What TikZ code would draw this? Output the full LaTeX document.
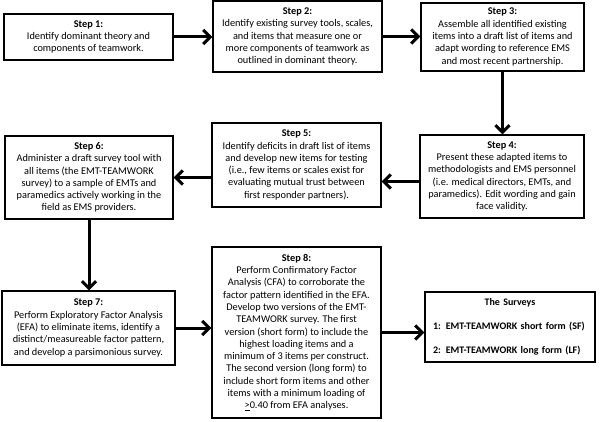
\documentclass[tikz,border=0pt]{standalone}
\usepackage{fontspec}
\setmainfont{Carlito}
\usetikzlibrary{arrows.meta}

\begin{document}
\begin{tikzpicture}[x=1pt, y=-1pt,
  stepbox/.style={draw, line width=1.3pt, fill=white, align=center, inner sep=2pt,
    font=\fontsize{10.3}{12.3}\selectfont},
  flow/.style={-{Straight Barb[length=7pt, width=14pt]}, line width=3pt}]
\useasboundingbox (0,0) rectangle (600,422);

% top row
\node (s1) at (88.5, 37) [stepbox, minimum width=169pt, minimum height=46pt]
  {\textbf{Step 1:}\\Identify dominant theory and\\components of teamwork.};
\node (s2) at (297.5, 36.5) [stepbox, minimum width=169pt, minimum height=71pt]
  {\textbf{Step 2:}\\Identify existing survey tools, scales,\\and items that measure one or\\more components of teamwork as\\outlined in dominant theory.};
\node (s3) at (502.5, 37) [stepbox, minimum width=163pt, minimum height=68pt]
  {\textbf{Step 3:}\\Assemble all identified existing\\items into a draft list of items and\\adapt wording to reference EMS\\and most recent partnership.};

% middle row
\node (s4) at (502, 176.5) [stepbox, minimum width=164pt, minimum height=83pt]
  {\textbf{Step 4:}\\Present these adapted items to\\methodologists and EMS personnel\\(i.e. medical directors, EMTs, and\\paramedics). Edit wording and gain\\face validity.};
\node (s5) at (296.5, 165) [stepbox, minimum width=169pt, minimum height=84pt]
  {\textbf{Step 5:}\\Identify deficits in draft list of items\\and develop new items for testing\\(i.e., few items or scales exist for\\evaluating mutual trust between\\first responder partners).};
\node (s6) at (89, 177.5) [stepbox, minimum width=168pt, minimum height=83pt]
  {\textbf{Step 6:}\\Administer a draft survey tool with\\all items (the EMT-TEAMWORK\\survey) to a sample of EMTs and\\paramedics actively working in the\\field as EMS providers.};

% bottom row
\node (s7) at (88.5, 328) [stepbox, minimum width=173pt, minimum height=74pt]
  {\textbf{Step 7:}\\Perform Exploratory Factor Analysis\\(EFA) to eliminate items, identify a\\distinct/measureable factor pattern,\\and develop a parsimonious survey.};
\node (s8) at (296.5, 332.5) [stepbox, minimum width=169pt, minimum height=171pt]
  {\textbf{Step 8:}\\Perform Confirmatory Factor\\Analysis (CFA) to corroborate the\\factor pattern identified in the EFA.\\Develop two versions of the EMT-\\TEAMWORK survey. The first\\version (short form) to include the\\highest loading items and a\\minimum of 3 items per construct.\\The second version (long form) to\\include short form items and other\\items with a minimum loading of\\\underline{>}0.40 from EFA analyses.};
\node (sv) at (510, 327) [stepbox, minimum width=170pt, minimum height=70pt, align=left,
  text width=160pt, inner xsep=5pt, font=\fontsize{10}{12}\selectfont\bfseries]
  {\makebox[\linewidth]{The Surveys}\\[12pt]\hspace*{3pt}1: EMT-TEAMWORK short form (SF)\\[12pt]\hspace*{3pt}2: EMT-TEAMWORK long form (LF)};

% connectors
\draw[flow] ([yshift=-5pt]s4.west) -- ([yshift=-5pt]s4.west -| s5.east);
\draw[flow] (s1.east) -- (s1.east -| s2.west);
\draw[flow] (s2.east) -- (s2.east -| s3.west);
\draw[flow] (s3.south) -- (s3.south |- s4.north);
\draw[flow] (s5.west |- s6.east) -- (s6.east);
\draw[flow] (s6.south) -- (s6.south |- s7.north);
\draw[flow] (s7.east) -- (s7.east -| s8.west);
\draw[flow] (s8.east) -- (s8.east -| sv.west);

\end{tikzpicture}
\end{document}
